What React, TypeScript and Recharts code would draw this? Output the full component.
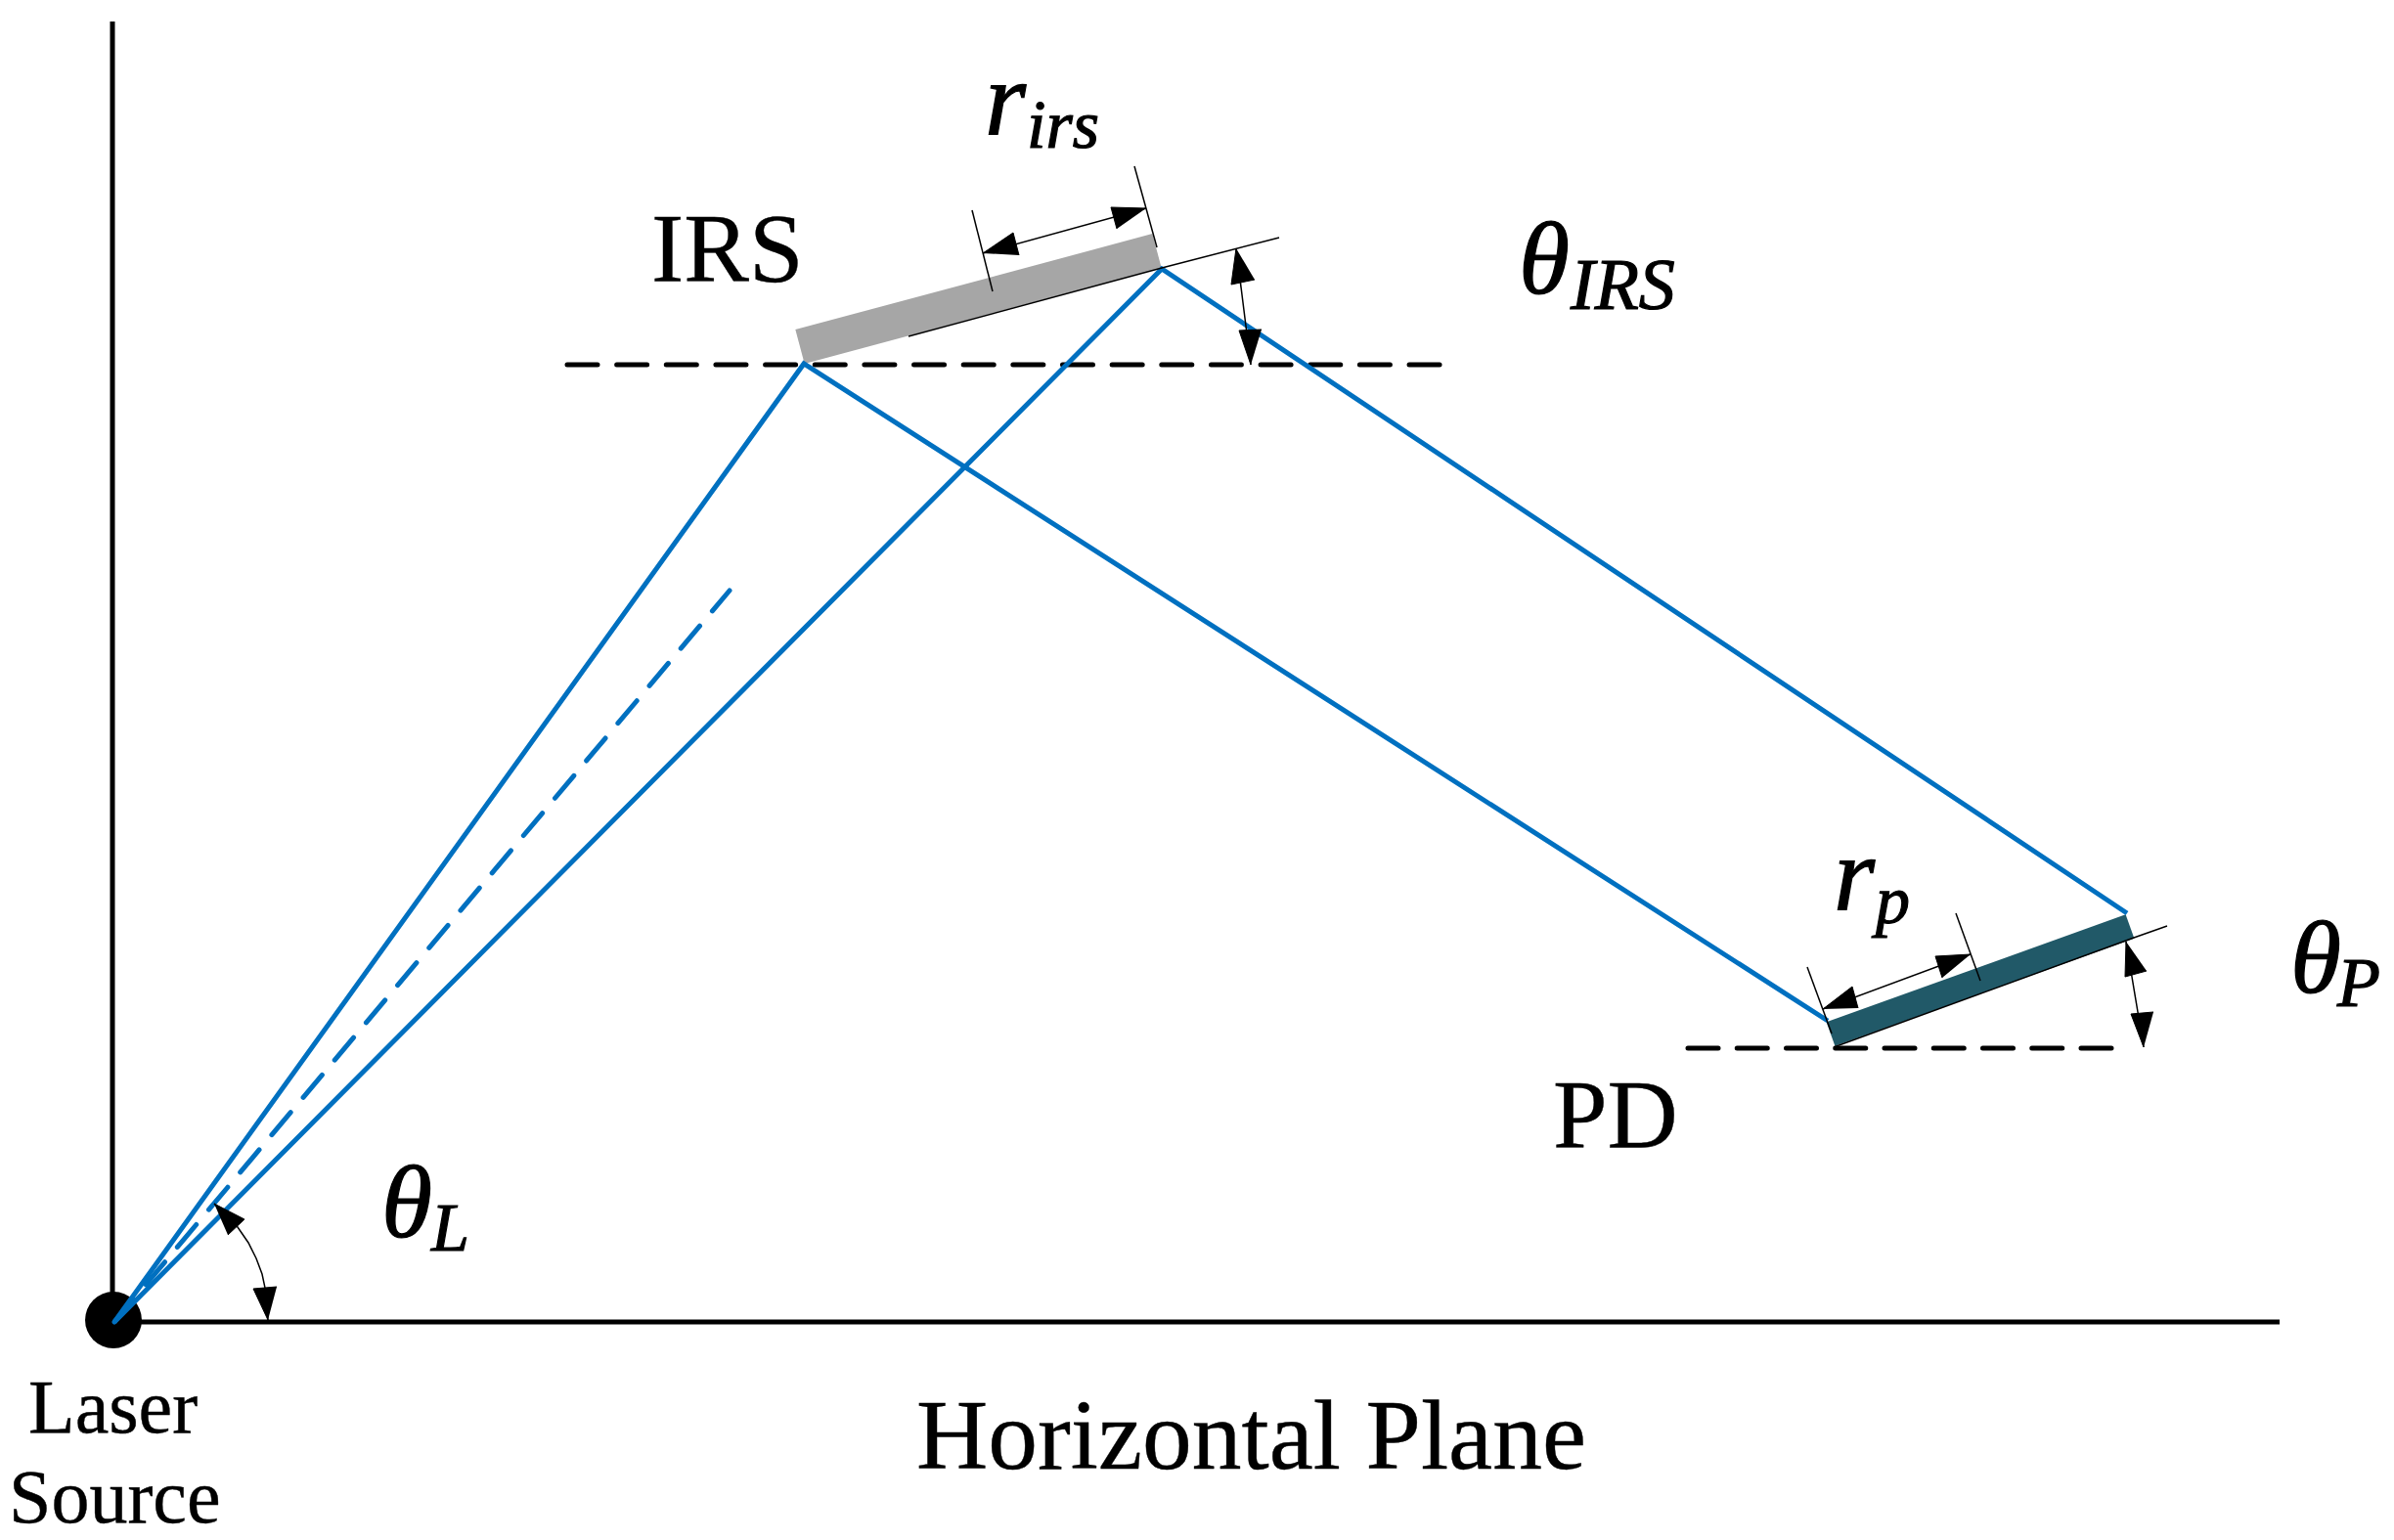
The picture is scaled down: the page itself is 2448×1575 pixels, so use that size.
import React from 'react';
import { ScatterChart, Scatter, XAxis, YAxis } from 'recharts';

type P = { x: number; y: number };
const pts = (...v: number[][]): P[] => v.map(([x, y]) => ({ x, y }));

const WIDTH = 2448;
const HEIGHT = 1575;

// Frame
const verticalWall = pts([115, 22], [115, 1350]);
const horizontalPlane = pts([116, 1352], [2331, 1352]);
const laserSource = pts([116, 1350]);

// Beams
const beamLeft = pts([117, 1352], [822, 372], [1869, 1044]);
const beamRight = pts([117, 1352], [1188, 275], [2175, 934]);
const beamAxis = pts([117, 1352], [746, 604]);

// Surfaces
const irsBar = pts([818, 354.5], [1183, 256.5]);
const pdBar = pts([1872, 1057.5], [2178, 947.5]);

// Horizontal references
const irsLevel = pts([580, 373], [1474, 373]);
const pdLevel = pts([1726, 1072], [2161, 1072]);

// Thin construction lines
const thinLines: P[][] = [
  pts([929, 344], [1188, 274], [1308, 243]),
  pts([994, 215], [1015, 298]),
  pts([1160, 170], [1183, 253]),
  pts([1005, 259], [1172, 213]),
  pts([1264, 254], [1279, 373]),
  pts([1875, 1071], [2182, 959], [2216, 947]),
  pts([1848, 989], [1873, 1057]),
  pts([2000, 934], [2025, 1003]),
  pts([1864, 1032], [2015, 976]),
  pts([2174, 963], [2192, 1071]),
  pts([219, 1231], [243, 1255], [254, 1271], [262, 1287], [268, 1303], [271, 1317], [274, 1350]),
];

// Arrow heads
const arrowHeads: P[][] = [
  pts([1005, 259], [1036, 238], [1042, 261]),
  pts([1172, 213], [1136, 212], [1142, 234]),
  pts([1264, 254], [1259, 291], [1283, 286]),
  pts([1279, 373], [1267, 338], [1290, 337]),
  pts([1864, 1032], [1894, 1009], [1900, 1031]),
  pts([2015, 976], [1979, 978], [1986, 1000]),
  pts([2174, 963], [2173, 999], [2195, 993]),
  pts([2192, 1071], [2179, 1037], [2202, 1035]),
  pts([219, 1231], [250, 1247], [233, 1263]),
  pts([274, 1350], [259, 1318], [283, 1316]),
];

// Text
const plainLabels = [
  { text: 'IRS', x: 666, y: 287, size: 100 },
  { text: 'PD', x: 1588, y: 1173, size: 100 },
  { text: 'Horizontal Plane', x: 937, y: 1502, size: 101.5 },
  { text: 'Laser', x: 29, y: 1465, size: 78 },
  { text: 'Source', x: 9, y: 1557, size: 78 },
];
const mathLabels = [
  { text: 'r', x: 1007, y: 137, size: 108 },
  { text: 'irs', x: 1050, y: 151, size: 70 },
  { text: 'θ', x: 1553, y: 300, size: 106 },
  { text: 'IRS', x: 1606, y: 316, size: 74 },
  { text: 'r', x: 1875, y: 930, size: 108 },
  { text: 'p', x: 1918, y: 944, size: 70 },
  { text: 'θ', x: 2342, y: 1015, size: 106 },
  { text: 'P', x: 2390, y: 1029, size: 72 },
  { text: 'θ', x: 390, y: 1265, size: 106 },
  { text: 'L', x: 441, y: 1279, size: 70 },
];

const BLUE = '#0070c0';
const NoMark = () => null;
const FONT = '"Liberation Serif", "Times New Roman", serif';

const Path = ({ data, ...line }: any) => (
  <Scatter data={data} isAnimationActive={false} shape={NoMark} line={line} lineType="joint" />
);

const textShape = (italic: boolean) => (p: any) => (
  <text
    x={p.cx}
    y={p.cy}
    fontFamily={FONT}
    fontStyle={italic ? 'italic' : 'normal'}
    fontSize={p.payload?.size ?? p.size}
    fill="#000"
    stroke="#000"
    strokeWidth={italic ? 1.2 : 0.4}
  >
    {p.payload?.text ?? p.text}
  </text>
);

const dotShape = (p: any) => <circle cx={p.cx} cy={p.cy} r={29} fill="#000" />;

export default function App() {
  return (
    <div style={{ position: 'absolute', left: 0, top: 0, width: WIDTH, height: HEIGHT, background: '#fff' }}>
      <ScatterChart width={WIDTH} height={HEIGHT} margin={{ top: 0, right: 0, bottom: 0, left: 0 }}>
        <XAxis type="number" dataKey="x" domain={[0, WIDTH]} hide allowDataOverflow />
        <YAxis type="number" dataKey="y" domain={[0, HEIGHT]} reversed hide allowDataOverflow />

        {Path({ data: verticalWall, stroke: '#000', strokeWidth: 5 })}
        {Path({ data: horizontalPlane, stroke: '#000', strokeWidth: 5 })}
        <Scatter data={laserSource} isAnimationActive={false} shape={dotShape} />

        {Path({ data: irsBar, stroke: '#a6a6a6', strokeWidth: 36 })}
        {Path({ data: pdBar, stroke: '#215968', strokeWidth: 26 })}

        {Path({ data: irsLevel, stroke: '#000', strokeWidth: 5, strokeDasharray: '31 19.65', strokeLinecap: 'round' })}
        {Path({ data: pdLevel, stroke: '#000', strokeWidth: 5, strokeDasharray: '31 19.25', strokeLinecap: 'round' })}

        {Path({ data: beamLeft, stroke: BLUE, strokeWidth: 5, strokeLinejoin: 'miter' })}
        {Path({ data: beamRight, stroke: BLUE, strokeWidth: 5, strokeLinejoin: 'miter' })}
        {Path({ data: beamAxis, stroke: BLUE, strokeWidth: 5, strokeDasharray: '30 20', strokeLinecap: 'round' })}

        {thinLines.map((d) => Path({ data: d, stroke: '#000', strokeWidth: 1.5, key: `${d[0].x}-${d[0].y}` }))}
        {arrowHeads.map((d) => (
          <Scatter
            key={`${d[0].x}-${d[0].y}`}
            data={d}
            isAnimationActive={false}
            shape={NoMark}
            lineType="joint"
            line={{ stroke: '#000', strokeWidth: 1, fill: '#000' }}
          />
        ))}

        <Scatter data={plainLabels} isAnimationActive={false} shape={textShape(false)} />
        <Scatter data={mathLabels} isAnimationActive={false} shape={textShape(true)} />
      </ScatterChart>
    </div>
  );
}
